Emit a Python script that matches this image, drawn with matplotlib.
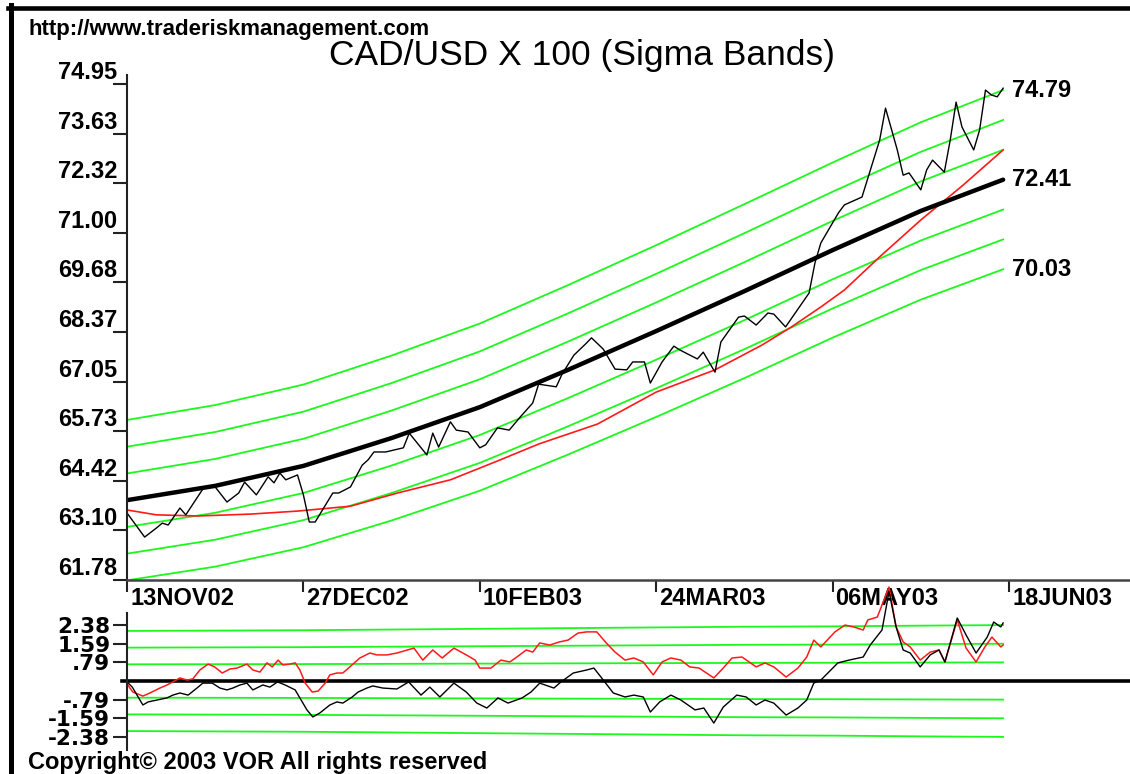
import matplotlib
matplotlib.use('Agg')
import matplotlib.pyplot as plt
import numpy as np
from matplotlib.transforms import ScaledTranslation
from matplotlib.lines import Line2D

# x axis = trading-day index, a date label every 30 bars
date_bars = [0, 30, 60, 90, 120, 150]
date_labels = ['13NOV02', '27DEC02', '10FEB03', '24MAR03', '06MAY03', '18JUN03']

ytick_vals = [74.95, 73.63, 72.32, 71.00, 69.68, 68.37, 67.05, 65.73, 64.42, 63.10, 61.78]

# regression line (thick black) and sigma of the bands
reg_bars = [0, 15, 30, 45, 60, 75, 90, 105, 120, 135, 149]
reg_vals = [63.90, 64.28, 64.81, 65.55, 66.37, 67.36, 68.39, 69.45, 70.54, 71.58, 72.41]
sigma = [0.71, 0.715, 0.72, 0.73, 0.74, 0.75, 0.76, 0.77, 0.775, 0.785, 0.793]

# red moving average
ma_bars = [0, 5, 12, 21, 29, 38, 46, 55, 63, 70, 80, 90, 100, 108, 113, 118, 122, 128, 135, 142, 149]
ma_vals = [63.64, 63.51, 63.48, 63.53, 63.61, 63.74, 64.09, 64.44, 64.94, 65.39, 65.92,
           66.77, 67.36, 68.02, 68.50, 69.03, 69.48, 70.36, 71.34, 72.24, 73.20]

# daily close
px_bars = [0, 3, 5, 6, 7, 9, 10, 13, 15, 17, 19, 20, 22, 24, 25, 26, 27, 29, 30, 31, 32,
           35, 36, 38, 40, 41, 42, 44, 47, 48, 51, 52, 53, 55, 56, 58, 60, 61, 63, 65,
           67, 69, 70, 73, 74, 76, 78, 79, 81, 83, 85, 86, 88, 89, 91, 93, 94, 97, 98,
           100, 101, 104, 105, 107, 109, 110, 112, 114, 116, 117, 118, 121, 122, 125,
           128, 129, 131, 132, 133, 135, 136, 137, 139, 140, 141, 142, 144, 145, 146,
           147, 148, 149]
px_vals = [63.56, 62.92, 63.16, 63.29, 63.24, 63.69, 63.51, 64.22, 64.25, 63.85, 64.09,
           64.38, 64.04, 64.52, 64.36, 64.62, 64.44, 64.57, 64.04, 63.32, 63.32,
           64.09, 64.09, 64.25, 64.83, 64.97, 65.18, 65.18, 65.29, 65.68, 65.10, 65.68,
           65.31, 65.98, 65.76, 65.71, 65.29, 65.37, 65.82, 65.76,
           66.13, 66.48, 66.98, 66.91, 67.25, 67.75, 68.05, 68.21, 67.91, 67.38, 67.36,
           67.57, 67.57, 67.01, 67.57, 67.99, 67.89, 67.65, 67.83,
           67.30, 68.10, 68.76, 68.79, 68.55, 68.87, 68.84, 68.50, 68.95, 69.40, 70.20,
           70.73, 71.53, 71.74, 71.95,
           73.46, 74.31, 73.20, 72.53, 72.59, 72.14, 72.67, 72.93, 72.61, 73.46, 74.47,
           73.81, 73.20, 73.73, 74.79, 74.66, 74.61, 74.84]

# lower panel: close minus regression (black) and close minus average (red)
dev_bars = [0.0, 0.9, 2.7, 3.6, 5.1, 6.8, 7.8, 9.0, 10.4, 11.9, 12.9, 14.5, 15.8, 17.0,
            18.0, 19.2, 20.4, 21.4, 23.1, 24.3, 25.6, 26.9, 28.6, 29.4, 30.6, 31.6, 32.8,
            34.5, 35.7, 36.7, 38.3, 39.3, 40.8, 41.8, 43.5, 45.9, 47.9, 50.0, 51.5, 53.2,
            55.6, 57.7, 59.5, 61.2, 63.1, 64.8, 67.2, 68.7, 70.2, 72.6, 73.8, 75.9, 78.2,
            79.4, 80.6, 82.7, 84.7, 86.2, 87.8, 89.0, 90.6, 92.5, 94.2, 96.6, 98.1, 99.8,
            101.4, 103.7, 105.3, 107.0, 108.5, 110.0, 112.1, 114.1, 115.6, 116.8, 118.0,
            120.9, 122.8, 125.2, 126.4, 128.4, 129.6, 130.8, 132.0, 133.2, 134.9, 136.6,
            138.1, 139.1, 141.2, 142.7, 144.4, 146.3, 147.4, 148.6, 149.0]
dev_vals = [-0.04, -0.26, -1.02, -0.89, -0.81, -0.72, -0.60, -0.51, -0.60, -0.30, -0.09,
            -0.09, -0.30, -0.38, -0.30, -0.17, -0.09, -0.38, -0.17, -0.26, -0.04, -0.17,
            -0.38, -0.72, -1.23, -1.53, -1.36, -1.02, -0.89, -0.94, -0.68, -0.47, -0.30,
            -0.21, -0.30, -0.34, -0.04, -0.60, -0.26, -0.68, -0.09, -0.47, -0.94, -1.15,
            -0.72, -0.94, -0.72, -0.47, -0.09, -0.30, -0.04, 0.34, 0.47, 0.55, 0.17,
            -0.51, -0.68, -0.60, -0.68, -1.32, -0.89, -0.60, -0.81, -1.23, -1.15, -1.79,
            -1.11, -0.60, -0.68, -1.02, -0.81, -0.94, -1.45, -1.15, -0.81, -0.09, 0.04,
            0.77, 0.89, 1.02, 1.53, 2.17, 3.80, 2.30, 1.32, 1.19, 0.60, 1.11, 1.32, 0.81,
            2.68, 1.96, 1.19, 1.87, 2.51, 2.30, 2.47]
madev_bars = [0.0, 1.0, 2.7, 3.9, 5.6, 6.8, 7.8, 9.0, 10.2, 11.2, 12.4, 13.8, 14.9, 16.2,
              17.5, 18.7, 20.4, 21.4, 22.6, 23.8, 24.7, 25.7, 26.5, 27.7, 28.6, 29.4, 30.3,
              31.5, 32.5, 33.7, 34.5, 35.7, 36.7, 37.9, 39.6, 41.3, 42.5, 44.2, 45.9, 48.8,
              50.3, 52.0, 53.6, 55.6, 57.7, 59.2, 60.0, 61.9, 63.6, 65.1, 66.3, 67.9, 69.0,
              70.2, 71.9, 73.5, 75.0, 76.7, 78.2, 79.9, 81.5, 83.0, 84.7, 86.2, 87.8, 89.5,
              91.0, 92.5, 94.2, 95.7, 97.3, 99.8, 101.4, 102.9, 104.6, 107.0, 108.5, 110.0,
              112.1, 114.1, 115.6, 116.8, 118.0, 120.4, 122.1, 123.6, 125.2, 126.0, 127.6,
              129.6, 130.8, 132.0, 133.2, 134.9, 136.6, 138.1, 139.1, 141.2, 142.7, 144.4,
              145.9, 147.1, 148.6, 149.0]
madev_vals = [-0.13, -0.47, -0.64, -0.51, -0.30, -0.17, -0.04, 0.13, 0.04, 0.09, 0.47,
              0.72, 0.60, 0.34, 0.51, 0.55, 0.72, 0.47, 0.38, 0.77, 0.60, 0.89, 0.68, 0.72,
              0.77, 0.47, -0.09, -0.47, -0.43, -0.09, 0.26, 0.34, 0.34, 0.60, 0.98, 1.19,
              1.11, 1.11, 1.19, 1.40, 0.89, 1.32, 0.98, 1.40, 1.11, 0.89, 0.55, 0.55, 0.89,
              0.81, 1.02, 1.32, 1.23, 1.62, 1.53, 1.66, 1.74, 2.04, 2.09, 2.09, 1.62, 1.23,
              0.89, 0.98, 0.81, 0.26, 0.81, 0.98, 0.89, 0.60, 0.55, 0.13, 0.55, 0.98, 1.02,
              0.60, 0.77, 0.60, 0.17, 0.55, 1.02, 1.74, 1.45, 2.09, 2.38, 2.30, 2.17, 2.60,
              2.72, 4.00, 2.30, 1.66, 1.45, 0.89, 1.23, 1.32, 0.81, 2.60, 1.40, 0.81, 1.45,
              1.87, 1.45, 1.53]
dev_ticks = [2.38, 1.59, 0.79, -0.79, -1.59, -2.38]
dev_tick_labels = ['2.38', '1.59', '.79', '-.79', '-1.59', '-2.38']

GREEN = '#1cf81c'
RED = '#ff1a1a'
W, H = 1130, 774
FONT = ['Liberation Sans', 'DejaVu Sans']
plt.rcParams['font.family'] = FONT

fig = plt.figure(figsize=(W / 100, H / 100), dpi=100)
xmax = (W - 127) / 5.88

# ---- main panel
ax = fig.add_axes([127 / W, (H - 580) / H, 1 - 127 / W, (580 - 75) / H])
ax.set_xlim(0, xmax)
ax.set_ylim(61.78, 75.19)

reg = np.array(reg_vals)
sig = np.array(sigma)
for k in [3, 2, 1, -1, -2, -3]:
    ax.plot(reg_bars, reg + k * sig, color=GREEN, lw=1.3)
ax.plot(ma_bars, ma_vals, color=RED, lw=1.2)
ax.plot(px_bars, px_vals, color='black', lw=1.0)
ax.plot(reg_bars, reg, color='black', lw=3.2, solid_capstyle='round')

for v in [reg[-1] + 3 * sig[-1], reg[-1], reg[-1] - 3 * sig[-1]]:
    ax.annotate(f'{v:.2f}', (reg_bars[-1], v), xytext=(6.5, 0), textcoords='offset points',
                va='center', ha='left', fontsize=17, fontweight='bold', annotation_clip=False)

for s in ['top', 'right']:
    ax.spines[s].set_visible(False)
ax.spines['left'].set_color('#222222')
ax.spines['left'].set_linewidth(1.5)
ax.spines['bottom'].set_color('#444444')
ax.spines['bottom'].set_linewidth(1.8)

ax.set_yticks(ytick_vals, labels=[f'{v:.2f}' for v in ytick_vals])
ax.tick_params(axis='y', length=10, width=1.5, pad=-2.9, labelsize=17, color='#222222')
for lab in ax.get_yticklabels():
    lab.set_fontweight('bold')
    lab.set_transform(lab.get_transform() + ScaledTranslation(0, 0.14, fig.dpi_scale_trans))

ax.set_xticks(date_bars, labels=date_labels)
ax.tick_params(axis='x', length=8.6, width=1.5, pad=-3.6, labelsize=17, color='#222222')
for lab in ax.get_xticklabels():
    lab.set_fontweight('bold')
    lab.set_ha('left')
    lab.set_transform(lab.get_transform() + ScaledTranslation(0.03, 0, fig.dpi_scale_trans))

# ---- lower panel
ax2 = fig.add_axes([127 / W, (H - 750) / H, 1 - 127 / W, (750 - 613) / H])
ax2.set_xlim(0, xmax)
ax2.set_ylim(-69 / 23.5, 68 / 23.5)
for k in [3, 2, 1, -1, -2, -3]:
    ax2.plot(reg_bars, k * sig, color=GREEN, lw=1.3)
ax2.axhline(0, xmin=-0.005, color='black', lw=2.6, clip_on=False)
ax2.plot(madev_bars, madev_vals, color=RED, lw=1.1, clip_on=False)
ax2.plot(dev_bars, dev_vals, color='black', lw=1.0, clip_on=False)

for s in ['top', 'right', 'bottom']:
    ax2.spines[s].set_visible(False)
ax2.spines['left'].set_color('#222222')
ax2.spines['left'].set_linewidth(1.5)
ax2.set_xticks([])
ax2.set_yticks(dev_ticks, labels=dev_tick_labels)
ax2.tick_params(axis='y', length=10, width=1.5, pad=2, labelsize=15.5, color='#222222')
for lab in ax2.get_yticklabels():
    lab.set_fontweight('bold')
    lab.set_family('DejaVu Sans')

# ---- texts and frame
fig.text(582 / W, 1 - 55 / H, 'CAD/USD X 100 (Sigma Bands)', ha='center', va='center',
         fontsize=25.5)
fig.text(28 / W, 1 - 30 / H, 'http://www.traderiskmanagement.com', ha='left', va='center',
         fontsize=16, fontweight='bold')
fig.text(28 / W, 1 - 762 / H, 'Copyright\u00a9 2003 VOR All rights reserved', ha='left',
         va='center', fontsize=17, fontweight='bold')

fig.add_artist(Line2D([8 / W, 1], [1 - 7.5 / H, 1 - 7.5 / H], color='black', lw=3.3))
fig.add_artist(Line2D([10.5 / W, 10.5 / W], [0, 1 - 5 / H], color='black', lw=3.6))

fig.savefig('out.png', dpi=100)
